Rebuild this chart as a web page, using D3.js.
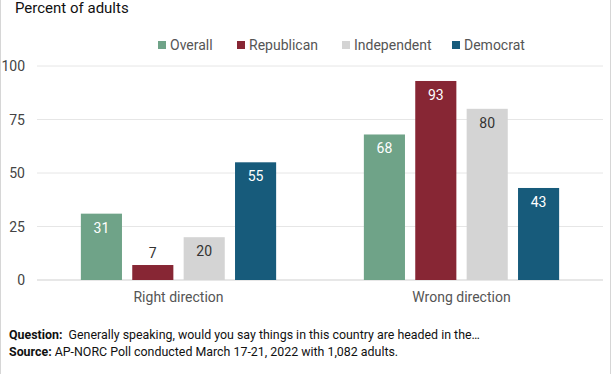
<!DOCTYPE html>
<html>
<head>
<meta charset="utf-8">
<script src="https://cdn.jsdelivr.net/npm/d3@7"></script>
<style>
  body { margin: 0; background: #fff; }
  svg { display: block; font-family: Roboto, "Noto Sans", sans-serif; }
</style>
</head>
<body>
<svg id="chart" width="612" height="374"></svg>
<script>
// data
var groups = ["Right direction", "Wrong direction"];
var series = ["Overall", "Republican", "Independent", "Democrat"];
var colors = ["#6fa388", "#872634", "#d4d4d4", "#175b7b"];
var rightValues = [31, 7, 20, 55];
var wrongValues = [68, 93, 80, 43];
var yTicks = [0, 25, 50, 75, 100];

var allValues = [rightValues, wrongValues];

var svg = d3.select("#chart");
var W = 612, H = 374;

// frame
svg.append("rect")
    .attr("x", 0.5).attr("y", -2)
    .attr("width", 610).attr("height", H + 4)
    .attr("fill", "none")
    .attr("stroke", "#d6d6d6");

svg.append("text")
    .attr("x", 15).attr("y", 13)
    .attr("font-size", 15)
    .attr("fill", "#111")
    .text("Percent of adults");

var plotLeft = 37, plotRight = 603;

var y = d3.scaleLinear().domain([0, 100]).range([280, 66]);

var x0 = d3.scaleBand()
    .domain(groups)
    .range([plotLeft, plotRight])
    .paddingInner(0.31)
    .paddingOuter(0.155);

var x1 = d3.scaleBand()
    .domain(series)
    .range([0, x0.bandwidth()])
    .paddingInner(0.2);

// gridlines
svg.append("g")
    .selectAll("line")
    .data(yTicks)
    .enter().append("line")
    .attr("x1", plotLeft).attr("x2", plotRight)
    .attr("y1", d => y(d)).attr("y2", d => y(d))
    .attr("stroke", d => d == 0 ? "#cfcfcf" : "#e6e6e6")
    .attr("stroke-width", 1);

// y labels
svg.append("g")
    .selectAll("text")
    .data(yTicks)
    .enter().append("text")
    .attr("x", 25)
    .attr("y", d => y(d) + 5)
    .attr("text-anchor", "end")
    .attr("font-size", 14)
    .attr("fill", "#444")
    .text(d => d);

// bars
var groupSel = svg.append("g")
    .selectAll("g")
    .data(groups)
    .enter().append("g")
    .attr("transform", d => "translate(" + x0(d) + ",0)");

groupSel.each(function (g, gi) {
    var vals = allValues[gi];
    var sel = d3.select(this);
    series.forEach(function (s, si) {
        var v = vals[si];
        sel.append("rect")
            .attr("x", x1(s))
            .attr("y", y(v))
            .attr("width", x1.bandwidth())
            .attr("height", y(0) - y(v))
            .attr("fill", colors[si]);

        var inside = (y(0) - y(v)) > 24;
        sel.append("text")
            .attr("x", x1(s) + x1.bandwidth() / 2)
            .attr("y", inside ? y(v) + 19 : y(v) - 7)
            .attr("text-anchor", "middle")
            .attr("font-size", 14)
            .attr("fill", (inside && s != "Independent") ? "#fff" : "#333")
            .text(v);
    });
});

// category labels
svg.append("g")
    .selectAll("text")
    .data(groups)
    .enter().append("text")
    .attr("x", d => x0(d) + x0.bandwidth() / 2)
    .attr("y", 302)
    .attr("text-anchor", "middle")
    .attr("font-size", 14)
    .attr("fill", "#555")
    .text(d => d);

// legend
var legendX = [158, 237, 342, 452];
var legend = svg.append("g")
    .selectAll("g")
    .data(series)
    .enter().append("g")
    .attr("transform", (d, i) => "translate(" + legendX[i] + ",41)");
legend.append("rect")
    .attr("width", 8).attr("height", 8)
    .attr("fill", (d, i) => colors[i]);
legend.append("text")
    .attr("x", 12).attr("y", 9)
    .attr("font-size", 14)
    .attr("fill", "#555")
    .text(d => d);

// footer
var foot = svg.append("g").attr("font-size", 12.4).attr("fill", "#111");
var q = foot.append("text").attr("x", 9).attr("y", 339);
q.append("tspan").attr("font-weight", "bold").text("Question:");
q.append("tspan").text("\u00a0 Generally speaking, would you say things in this country are headed in the\u2026");
var s = foot.append("text").attr("x", 9).attr("y", 356);
s.append("tspan").attr("font-weight", "bold").text("Source:");
s.append("tspan").text(" AP-NORC Poll conducted March 17-21, 2022 with 1,082 adults.");
</script>
</body>
</html>
